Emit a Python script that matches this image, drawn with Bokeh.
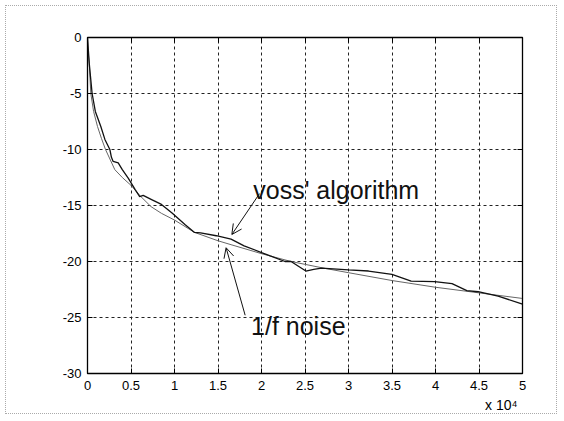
from bokeh.plotting import figure
from bokeh.models import (FixedTicker, LinearAxis, Range1d, Label, Arrow, OpenHead, Title)
from bokeh.embed import file_html
from bokeh.resources import INLINE

# ---- data (x in units of 1e4) ----
x_ticks = [0, 0.5, 1, 1.5, 2, 2.5, 3, 3.5, 4, 4.5, 5]
x_tick_labels = ["0", "0.5", "1", "1.5", "2", "2.5", "3", "3.5", "4", "4.5", "5"]
y_ticks = [-30, -25, -20, -15, -10, -5, 0]
y_tick_labels = ["-30", "-25", "-20", "-15", "-10", "-5", "0"]

x_inv_f = [0, 0.005, 0.02, 0.038, 0.07, 0.115, 0.16, 0.207, 0.314, 0.4, 0.5, 0.6,
           0.73, 0.85, 1.0, 1.23, 1.5, 1.65, 2.0, 2.34, 2.72, 3.0, 3.5, 4.0, 4.5, 5.0]
y_inv_f = [0, -1.0, -2.3, -5.0, -6.6, -7.95, -9.0, -10.0, -11.8, -12.5, -13.2, -14.1,
           -15.1, -15.7, -16.3, -17.4, -18.15, -18.5, -19.3, -20.0, -20.6, -21.0,
           -21.7, -22.3, -22.8, -23.3]

x_voss = [0, 0.02, 0.053, 0.09, 0.153, 0.2, 0.257, 0.275, 0.295, 0.353, 0.40, 0.468,
          0.55, 0.60, 0.64, 0.737, 0.85, 0.975, 1.12, 1.23, 1.30, 1.48, 1.65, 1.8,
          2.0, 2.1, 2.27, 2.34, 2.42, 2.51, 2.6, 2.69, 3.0, 3.23, 3.5, 3.72, 3.99,
          4.19, 4.36, 4.49, 4.72, 5.0]
y_voss = [0, -2.3, -5.0, -6.6, -7.95, -9.1, -10.0, -10.7, -11.07, -11.2, -11.8, -12.55,
          -13.6, -14.2, -14.1, -14.47, -14.9, -15.7, -16.7, -17.4, -17.45, -17.7, -18.0,
          -18.6, -19.2, -19.5, -20.0, -20.0, -20.4, -20.85, -20.7, -20.6, -20.75, -20.85,
          -21.15, -21.75, -21.8, -21.97, -22.6, -22.7, -23.1, -23.8]

x_exponent_label = "x 10\u2074"

FONT = "Liberation Sans"

p = figure(width=562, height=419, output_backend="svg", toolbar_location=None,
           x_range=Range1d(0, 5), y_range=Range1d(-30, 0),
           min_border_left=87, min_border_right=40, min_border_top=37, min_border_bottom=46)
p.styles = {"outline": "1px dotted #aaaaaa", "outline-offset": "-6px",
            "background-color": "white"}
p.background_fill_color = "white"
p.border_fill_color = None
p.outline_line_color = "black"
p.outline_line_width = 1.3

# axes
xt = FixedTicker(ticks=x_ticks)
yt = FixedTicker(ticks=y_ticks)
for ax in p.xaxis:
    ax.ticker = xt
    ax.major_label_overrides = {float(v): s for v, s in zip(x_ticks, x_tick_labels)}
    ax.major_label_standoff = 7
for ax in p.yaxis:
    ax.ticker = yt
    ax.major_label_overrides = {float(v): s for v, s in zip(y_ticks, y_tick_labels)}
    ax.major_label_standoff = 6

for ax in list(p.xaxis) + list(p.yaxis):
    ax.major_tick_in = 5
    ax.major_tick_out = 0
    ax.minor_tick_line_color = None
    ax.axis_line_color = "black"
    ax.major_tick_line_color = "black"
    ax.major_label_text_font = FONT
    ax.major_label_text_font_size = "13px"
    ax.major_label_text_color = "black"

top = LinearAxis(ticker=xt, major_tick_in=5, major_tick_out=0,
                 minor_tick_line_color=None, major_label_standoff=0,
                 major_label_overrides={float(v): "" for v in x_ticks})
right = LinearAxis(ticker=yt, major_tick_in=5, major_tick_out=0,
                   minor_tick_line_color=None, major_label_standoff=0,
                   major_label_overrides={float(v): "" for v in y_ticks})
p.add_layout(top, "above")
p.add_layout(right, "right")

# exponent label under the x axis, right aligned
p.add_layout(Title(text=x_exponent_label, align="right", text_font=FONT,
                   text_font_size="14px", text_font_style="normal",
                   text_color="black", standoff=4, offset=5), "below")

p.xgrid.ticker = xt
p.ygrid.ticker = yt
for g in (p.xgrid[0], p.ygrid[0]):
    g.grid_line_color = "#222222"
    g.grid_line_dash = "3 3"
    g.grid_line_width = 1

# curves
p.line(x_inv_f, y_inv_f, line_color="#666666", line_width=1.0)
p.line(x_voss, y_voss, line_color="#111111", line_width=1.3)

# annotations
p.add_layout(Label(x=1.905, y=-13.6, text="voss' algorithm", text_font=FONT,
                   text_font_size="25px", text_color="#111111", text_baseline="alphabetic"))
p.add_layout(Label(x=1.88, y=-25.75, text="1/f noise", text_font=FONT,
                   text_font_size="25px", text_color="#111111", text_baseline="alphabetic"))
p.add_layout(Arrow(x_start=1.977, y_start=-13.94, x_end=1.659, y_end=-17.59,
                   line_color="#111111", line_width=1,
                   end=OpenHead(size=10, line_color="#111111", line_width=1)))
p.add_layout(Arrow(x_start=1.812, y_start=-24.8, x_end=1.593, y_end=-18.77,
                   line_color="#111111", line_width=1,
                   end=OpenHead(size=10, line_color="#111111", line_width=1)))

open("out.html", "w").write(file_html(p, INLINE))
